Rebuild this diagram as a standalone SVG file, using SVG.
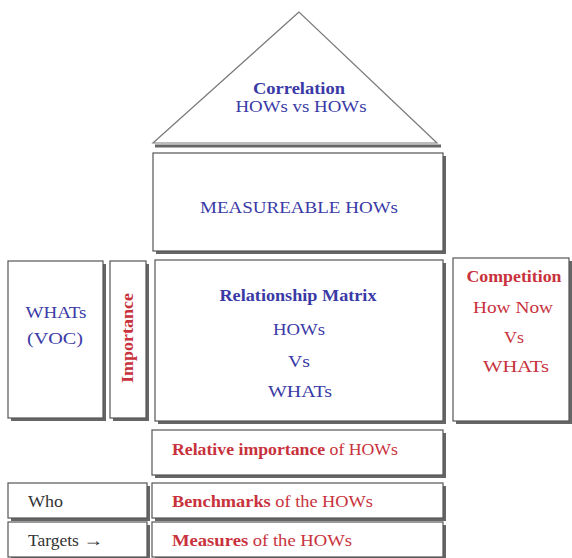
<svg xmlns="http://www.w3.org/2000/svg" width="572" height="558" viewBox="0 0 572 558">
<defs>
<style>
.sh{fill:#666}
.bx{fill:#fff;stroke:#555;stroke-width:1.2}
text{font-family:"Liberation Serif","Times New Roman",serif;font-size:16px}
.b{fill:#3a3aa6}
.r{fill:#c8323c}
.k{fill:#333}
.bd{font-weight:bold}
</style>
</defs>
<rect width="572" height="558" fill="#fff"/>
<g id="roof">
<line x1="155" y1="146" x2="441" y2="146" stroke="#666" stroke-width="3"/>
<polygon points="299,12 153,143 437,143" fill="#fff" stroke="#7a7a7a" stroke-width="1.2"/>
<text class="b bd" x="299" y="94" text-anchor="middle" textLength="92" lengthAdjust="spacingAndGlyphs">Correlation</text>
<text class="b" x="301" y="112" text-anchor="middle" textLength="131" lengthAdjust="spacingAndGlyphs">HOWs vs HOWs</text>
</g>
<g id="hows">
<rect class="sh" x="156" y="156" width="290" height="98"/>
<rect class="bx" x="153" y="153" width="290" height="98"/>
<text class="b" x="299" y="213" text-anchor="middle" textLength="198" lengthAdjust="spacingAndGlyphs">MEASUREABLE HOWs</text>
</g>
<g id="whats">
<rect class="sh" x="11" y="264" width="95" height="157"/>
<rect class="bx" x="8" y="261" width="95" height="157"/>
<text class="b" x="56" y="318" text-anchor="middle" textLength="61" lengthAdjust="spacingAndGlyphs">WHATs</text>
<text class="b" x="55" y="344" text-anchor="middle" textLength="56" lengthAdjust="spacingAndGlyphs">(VOC)</text>
</g>
<g id="importance">
<rect class="sh" x="113" y="264" width="36" height="157"/>
<rect class="bx" x="110" y="261" width="36" height="157"/>
<text class="r bd" transform="translate(133,338) rotate(-90)" x="0" y="0" text-anchor="middle" textLength="90" lengthAdjust="spacingAndGlyphs">Importance</text>
</g>
<g id="matrix">
<rect class="sh" x="158" y="263" width="288" height="161"/>
<rect class="bx" x="155" y="260" width="288" height="161"/>
<text class="b bd" x="298" y="301" text-anchor="middle" textLength="157" lengthAdjust="spacingAndGlyphs">Relationship Matrix</text>
<text class="b" x="299" y="335" text-anchor="middle" textLength="52" lengthAdjust="spacingAndGlyphs">HOWs</text>
<text class="b" x="299" y="367" text-anchor="middle" textLength="22" lengthAdjust="spacingAndGlyphs">Vs</text>
<text class="b" x="300" y="397" text-anchor="middle" textLength="64" lengthAdjust="spacingAndGlyphs">WHATs</text>
</g>
<g id="competition">
<rect class="sh" x="456" y="261" width="116" height="163"/>
<rect class="bx" x="453" y="258" width="116" height="163"/>
<text class="r bd" x="514" y="282" text-anchor="middle" textLength="95" lengthAdjust="spacingAndGlyphs">Competition</text>
<text class="r" x="513" y="313" text-anchor="middle" textLength="80" lengthAdjust="spacingAndGlyphs">How Now</text>
<text class="r" x="514" y="343" text-anchor="middle" textLength="20" lengthAdjust="spacingAndGlyphs">Vs</text>
<text class="r" x="516" y="372" text-anchor="middle" textLength="66" lengthAdjust="spacingAndGlyphs">WHATs</text>
</g>
<g id="relative">
<rect class="sh" x="155" y="433" width="291" height="45"/>
<rect class="bx" x="152" y="430" width="291" height="45"/>
<text class="r" x="172" y="455" textLength="226" lengthAdjust="spacingAndGlyphs"><tspan class="bd">Relative importance</tspan> of HOWs</text>
</g>
<g id="who">
<rect class="sh" x="11" y="486" width="139" height="35"/>
<rect class="bx" x="8" y="483" width="139" height="35"/>
<text class="k" x="28" y="507" textLength="35" lengthAdjust="spacingAndGlyphs">Who</text>
</g>
<g id="benchmarks">
<rect class="sh" x="155" y="486" width="291" height="35"/>
<rect class="bx" x="152" y="483" width="291" height="35"/>
<text class="r" x="172" y="507" textLength="201" lengthAdjust="spacingAndGlyphs"><tspan class="bd">Benchmarks</tspan> of the HOWs</text>
</g>
<g id="targets">
<rect class="sh" x="11" y="525" width="139" height="35"/>
<rect class="bx" x="8" y="522" width="139" height="35"/>
<text class="k" x="28" y="546" textLength="75" lengthAdjust="spacingAndGlyphs">Targets <tspan font-weight="bold" font-size="18">→</tspan></text>
</g>
<g id="measures">
<rect class="sh" x="155" y="525" width="291" height="35"/>
<rect class="bx" x="152" y="522" width="291" height="35"/>
<text class="r" x="172" y="546" textLength="180" lengthAdjust="spacingAndGlyphs"><tspan class="bd">Measures</tspan> of the HOWs</text>
</g>
<g id="connectors"></g>
</svg>
